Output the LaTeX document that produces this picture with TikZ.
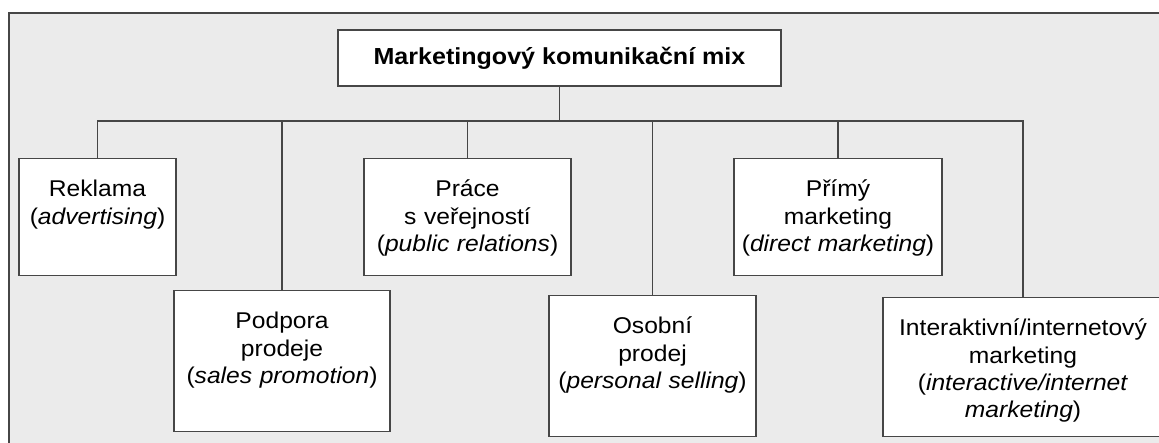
\documentclass[tikz,border=0pt]{standalone}
\usepackage{fontspec}
\setmainfont{Liberation Sans}[FakeStretch=1.08]
\definecolor{panelgray}{RGB}{235,235,235}
\definecolor{edgegray}{RGB}{70,70,70}
\tikzset{
  mixbox/.style={draw=edgegray, fill=white, line width=0.7pt, anchor=north,
    align=center, inner xsep=0pt, inner ysep=0pt,
    font=\fontsize{11.4}{13.7}\selectfont, text height=19pt},
  toprow/.style={mixbox, text depth=39.5pt},
  lowrow/.style={mixbox, text depth=51.5pt}
}
\begin{document}
\begin{tikzpicture}[x=0.5pt, y=-0.5pt]
  \useasboundingbox (0,0) rectangle (1159,443);
  \clip (0,0) rectangle (1159,443);
  \draw[edgegray, fill=panelgray, line width=1pt] (9,13) rectangle (1180,470);
  \node[draw=edgegray, fill=white, line width=0.7pt, minimum width=221.5pt,
    minimum height=28pt, font=\bfseries\fontsize{11.6}{14}\selectfont]
    (mix) at (559.5,58) {Marketingový komunikační mix};
  \node[toprow, text width=78.5pt] (reklama) at (97.5,158)
    {Reklama\\(\textit{advertising})};
  \node[lowrow, text width=108pt] (podpora) at (282,290)
    {Podpora\\prodeje\\(\textit{sales promotion})};
  \node[toprow, text width=103.5pt] (prace) at (467.5,158)
    {Práce\\s veřejností\\(\textit{public relations})};
  \node[lowrow, text width=103.5pt] (osobni) at (652.5,295)
    {Osobní\\prodej\\(\textit{personal selling})};
  \node[toprow, text width=104pt] (primy) at (838,158)
    {Přímý\\marketing\\(\textit{direct marketing})};
  \node[lowrow, text width=140pt, text depth=50.5pt] (interakt) at (1023,297)
    {Interaktivní/internetový\\marketing\\(\textit{interactive/internet}\\\textit{marketing})};
  \coordinate (bus) at (0,121);
  \begin{scope}[edgegray, line width=0.7pt]
    \draw (mix.south) -- (mix.south |- bus);
    \draw (reklama.north) |- (interakt.north |- bus) -- (interakt.north);
    \draw (podpora.north) -- (podpora.north |- bus);
    \draw (prace.north) -- (prace.north |- bus);
    \draw (osobni.north) -- (osobni.north |- bus);
    \draw (primy.north) -- (primy.north |- bus);
  \end{scope}
\end{tikzpicture}
\end{document}
